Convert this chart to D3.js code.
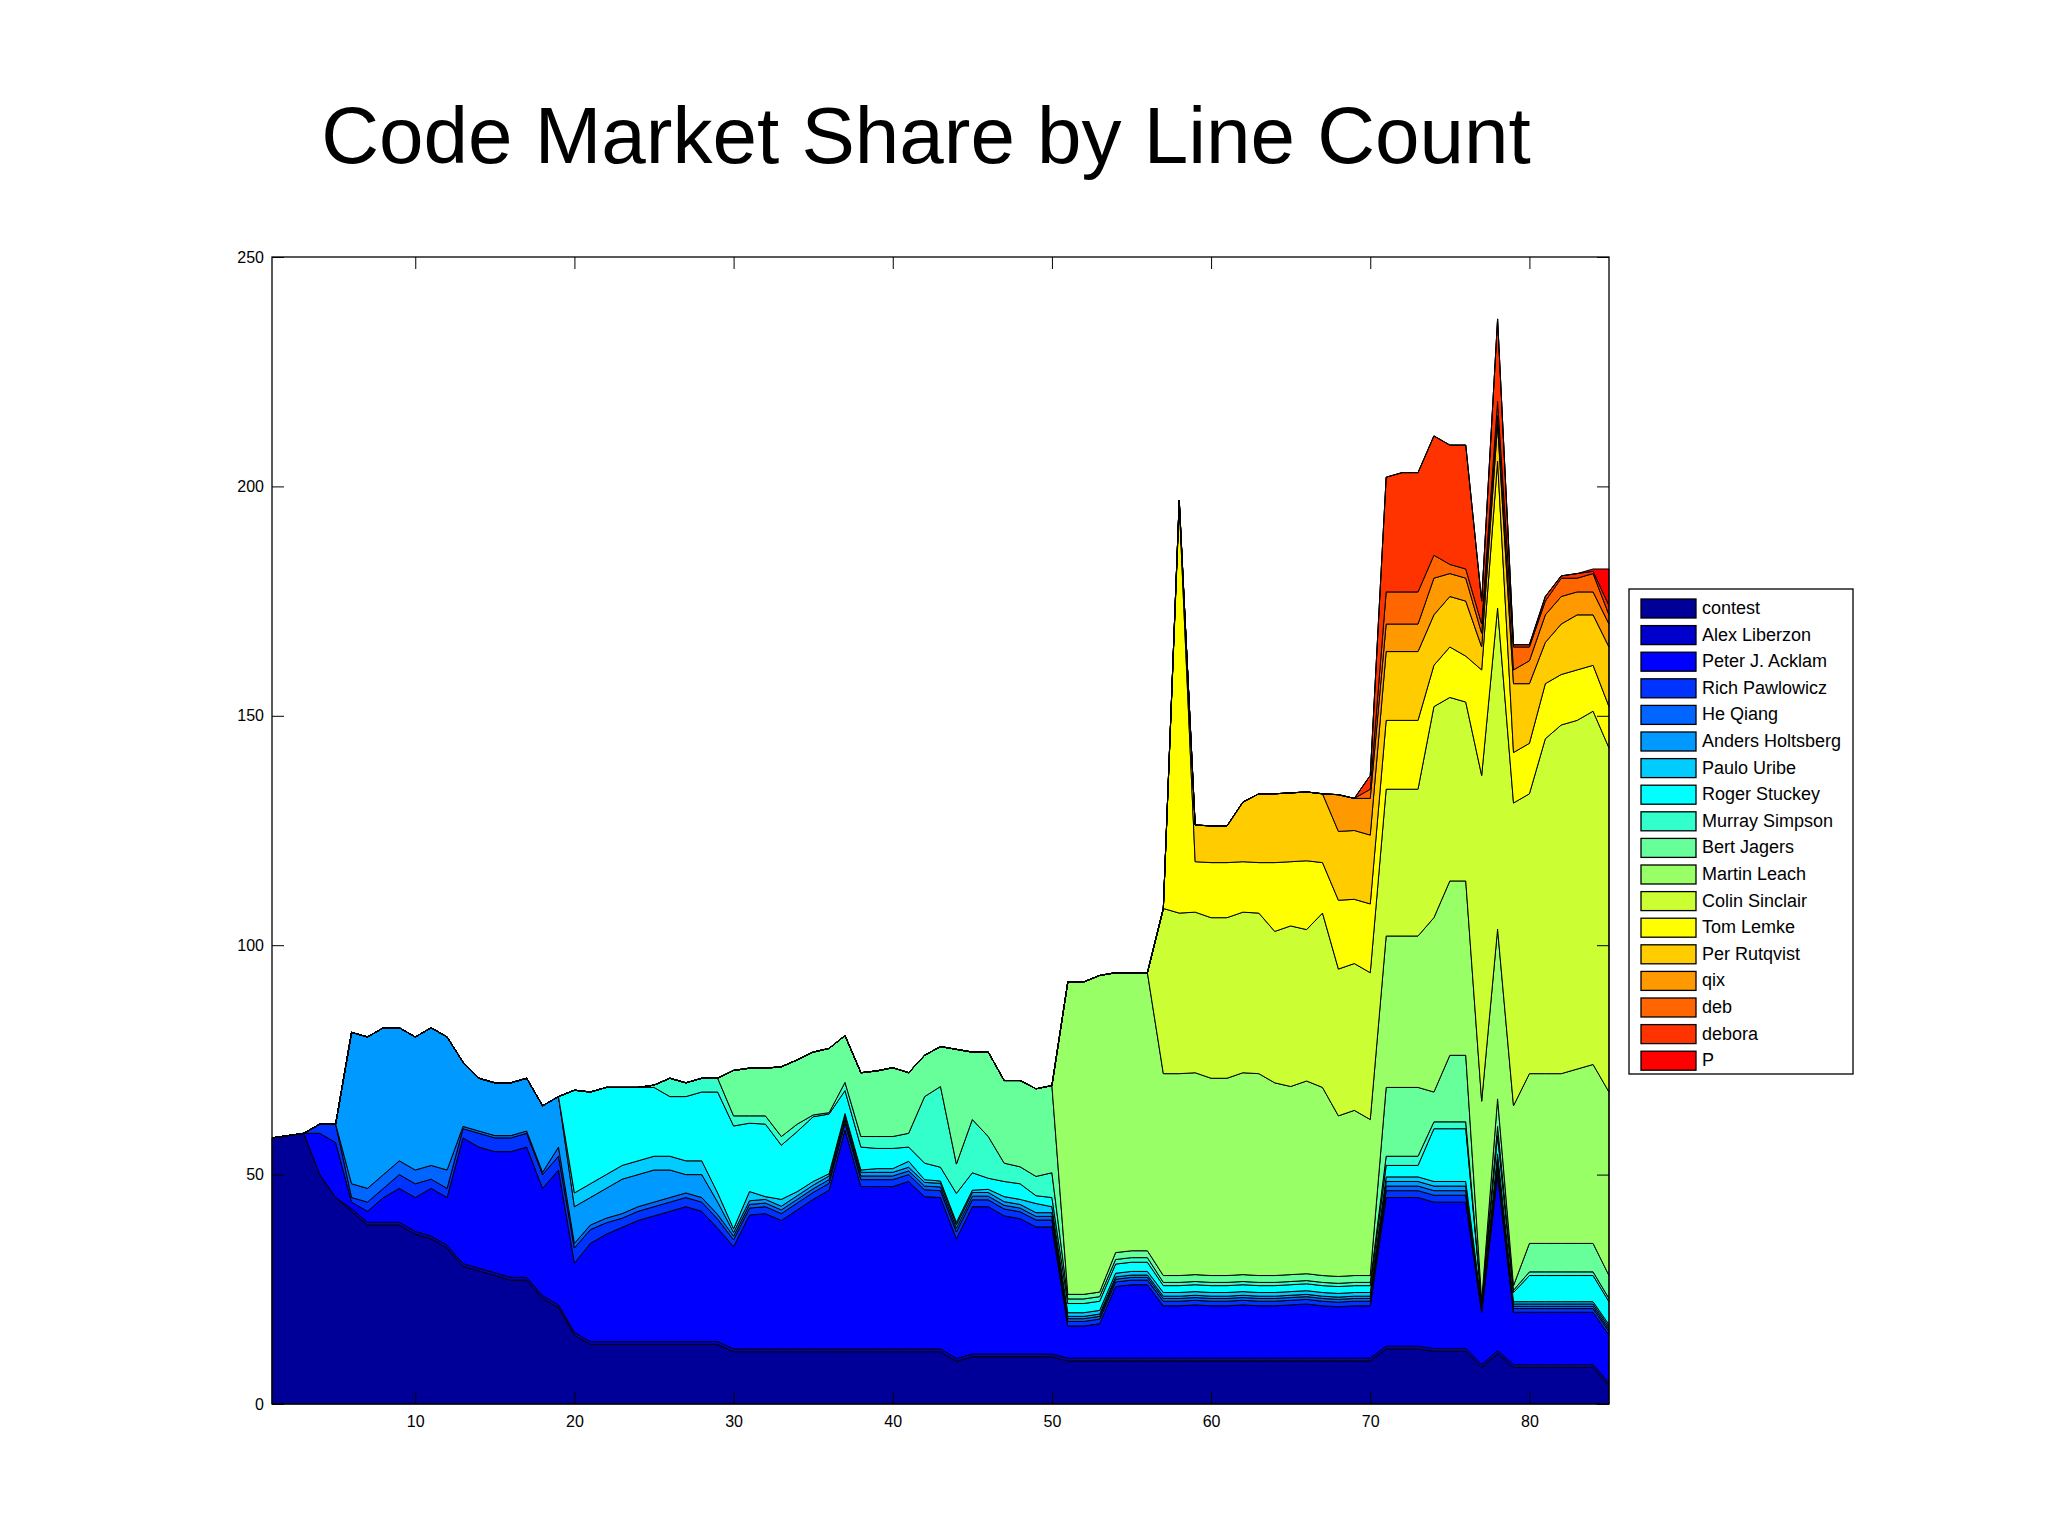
<!DOCTYPE html>
<html><head><meta charset="utf-8">
<script src="https://cdn.jsdelivr.net/npm/d3@7"></script>
<style>body{margin:0;background:#fff}</style></head>
<body><svg id="c" width="2048" height="1536"></svg>
<script>
const names=["contest","Alex Liberzon","Peter J. Acklam","Rich Pawlowicz","He Qiang","Anders Holtsberg","Paulo Uribe","Roger Stuckey","Murray Simpson","Bert Jagers","Martin Leach","Colin Sinclair","Tom Lemke","Per Rutqvist","qix","deb","debora","P"];
const colors=["#000099","#0000cc","#0000ff","#0033ff","#0066ff","#0099ff","#00ccff","#00ffff","#33ffcc","#66ff99","#99ff66","#ccff33","#ffff00","#ffcc00","#ff9900","#ff6600","#ff3300","#ff0000"];
const yTicks=[0,50,100,150,200,250];
const xTicks=[10,20,30,40,50,60,70,80];
const z=n=>Array(n).fill(0);
const rep=(v,n)=>Array(n).fill(v);

const contest=[58,58.5,59, 50,45,42,39,39,39,37,36,34,30,29,28,27,27,23,21,15, ...rep(13,9), ...rep(11.4,14), 9.3, ...rep(10.3,6), ...rep(9.4,20), 12,12,12,11.5,11.5,11.5, 8, 11, ...rep(8,6), 4];
const alex=[...z(5), ...rep(0.6,80)];
const peter=[0,0,0, 9,12, 1.4,2.4,5.4,7.4,7.4,10.4,10.4,27.4,26.4,26.4,27.4,28.4,23.4,29.4,15.1,
 21.4,23.4,24.9,26.4,27.4,28.4,29.4,28.4,24.7,
 22.3,29.2,29.5,28,30.3,32.6,34.6,47.7,35.4,35.4,35.4,36.5,33.2,33, 26.1,
 32.1,32.1,30.1,29.5,27.7,27.7, 7,7,7.5, 15.6,16,16,
 11.4,11.4,11.6,11.4,11.4,11.6,11.4,11.4,11.6,11.8,11.4,11.2,11.4,11.4,
 32.4,32.4,32.4,31.9,31.9,31.9, 11.4, 38.4, 11.4,11.4,11.4,11.4,11.4,11.4, 10.4];
const rich=[0,0,0, 2,4, 1,2,2,3,3,2,2,2,3,3,3,3,3,3,3.3, 3,2.5,2,2,2,2,2,2,2, ...rep(1.5,21), ...rep(1,20), ...rep(1.5,6), 0.5, 1.5, ...rep(0.8,7)];
const heqiang=[...z(5), 3,3,3,3,3,3,4,0.5,0.5,0.5,0.5,0.5,0.5,2,1, ...rep(1,9), ...rep(0.8,21), ...rep(0.6,20), ...rep(1,6), 0.3, 1, ...rep(0.5,7)];
const anders=[...z(5), 33,33,32,29,29,30,29,14,11.5,11.5,11.5,11.5,14.5,11,8, 6,6.5,7.5,7,7,6,4,5,2.7, ...rep(0.8,21), ...rep(0.5,20), ...rep(1,6), 0.3, 1, ...rep(0.5,7)];
const paulo=[...z(19), 3, 3,3,3,3,3,3,3,3,2,
 0.8,2,0.6,1.5,0.9,0.8,0.5,0.5,0.5,0.8,0.8,1.3,0.6,0.5,0.5,0.5,0.7,1.1,1.1,2,1.3,
 ...rep(0.8,20), ...rep(1,6), 0.3, 1, ...rep(0.5,7)];
const roger=[...z(19), 22.4, 20,19,17,16,15,13,14,15,22,
 22.4,14.9,15.8,11.8,13.1,14.1,13,5,5,4.4,4.4,3.1,3.6,3,6.3,3.8,2.4,3.3,3.4,1.7,2,
 2,2,2,2,2,2, ...rep(1.5,14), 2.5,2.5,2.5,11.5,11.5,11.5, 0.6, 4, 2, 5.7,5.7,5.7,5.7,5.7, 5];
const murray=[...z(24), 0.5,4,3,3,3,
 2.2,1.6,1.8,1.9,1.6,0.4,0.3,1.8,2.3,2.6,2.6,3,14.5,17.6,6.4,11.6,9.1,4,3.7,4.2,5.4,
 1,1,1,1,1,1, ...rep(0.7,14), 2,2,2,1.5,1.5,1.5, 0.3, 2, 0.5, 0.8,0.8,0.8,0.8,0.8, 0.7];
const bert=[...z(29),
 9.9,10.4,10.4,15.2,14,13.7,14,10.2,13.9,14.3,15,13.2,9,8.7,25,14.7,18.4,18,18.8,19.1,19,
 1,1,1,1.5,1.5,1.5, ...rep(1.5,14), 15,15,15,6.5,14.5,14.5, 0.3, 6, 1, 6.2,6.2,6.2,6.2,6.2, 5];
const martin=[...z(50), 68.1,68.1,69,61,60.6,60.6,
 44,44,44,43,43,44,44,42,41,42,41,35,36,34,
 33,33,33,38,38,38, 43.4, 37, 39.2, 37,37,37,38,39, 40];
const colin=[...z(56), 36,35,35,35,35,35,35,33,35,33,38,32,32,32,
 32,32,32,46,40,39, 71, 70, 66, 61,73,76,76,77, 75];
const tom=[...z(57), 89,11,12,12,11,11,15,14,15,11,15,14,15,
 15,15,15,9,11,10, 23, 32, 11, 11,12,11,11,10, 9];
const per=[...z(57), 1,8,8,8,13,15,15,15,15,15,15,15,15,
 15,15,15,11,11,12, 5, 8, 15, 13,9,11,12,11, 13];
const qix=[...z(67), 8,7,8, 6,6,6,8,5,5, 3, 2, 3, 5,6,6,5,5, 5];
const deb=[...z(69), 2, 7,7,7,5,2,2, 2, 3, 5, 3,3,4,3,4, 2];
const debora=[...z(69), 3, 25,26,26,26,26,27, 5, 18, 0.5, 0.5,1,0.5,1,0.5, 2];
const pSeries=[...z(83), 0.5, 8];
const series=[contest,alex,peter,rich,heqiang,anders,paulo,roger,murray,bert,martin,colin,tom,per,qix,deb,debora,pSeries];

const xs=d3.range(1,86);
const rows=xs.map((x,i)=>{const r={x};series.forEach((s,k)=>r[k]=s[i]);return r;});
const stack=d3.stack().keys(d3.range(series.length))(rows);

const svg=d3.select("#c");
const L=272,R=1609,T=257,B=1404;
const x=d3.scaleLinear().domain([1,85]).range([L,R]);
const y=d3.scaleLinear().domain([0,250]).range([B,T]);
svg.append("text").attr("x",926).attr("y",163).attr("text-anchor","middle")
 .attr("font-family","Liberation Sans, Arial, sans-serif").attr("font-size",80).text("Code Market Share by Line Count");
const area=d3.area().x(d=>x(d.data.x)).y0(d=>y(d[0])).y1(d=>y(d[1]));
svg.append("g").selectAll("path").data(stack).join("path")
 .attr("d",area).attr("fill",(d,i)=>colors[i]).attr("stroke","#000").attr("stroke-width",1).attr("stroke-linejoin","round");
svg.append("rect").attr("x",L).attr("y",T).attr("width",R-L).attr("height",B-T).attr("fill","none").attr("stroke","#000").attr("stroke-width",1.3);
const font="Liberation Sans, Arial, sans-serif";
const ax=(g,a)=>g.call(a).call(s=>s.select(".domain").remove()).selectAll("text").attr("font-family",font).attr("font-size",16);
ax(svg.append("g").attr("transform",`translate(0,${B})`),d3.axisBottom(x).tickValues(xTicks).tickSizeInner(-12).tickPadding(12));
ax(svg.append("g").attr("transform",`translate(0,${T})`),d3.axisTop(x).tickValues(xTicks).tickSizeInner(-12).tickFormat(""));
ax(svg.append("g").attr("transform",`translate(${L},0)`),d3.axisLeft(y).tickValues(yTicks).tickSizeInner(-12).tickPadding(8).tickSizeOuter(0));
ax(svg.append("g").attr("transform",`translate(${R},0)`),d3.axisRight(y).tickValues(yTicks).tickSizeInner(-12).tickFormat(""));
const lg=svg.append("g");
lg.append("rect").attr("x",1629).attr("y",589).attr("width",224).attr("height",485).attr("fill","#fff").attr("stroke","#000").attr("stroke-width",1.3);
const rowH=26.6;
names.forEach((n,i)=>{
 const cy=608+i*rowH;
 lg.append("rect").attr("x",1641).attr("y",cy-9).attr("width",55).attr("height",19).attr("fill",colors[i]).attr("stroke","#000").attr("stroke-width",1.3);
 lg.append("text").attr("x",1702).attr("y",cy+6).attr("font-family",font).attr("font-size",18).text(n);
});
</script></body></html>
